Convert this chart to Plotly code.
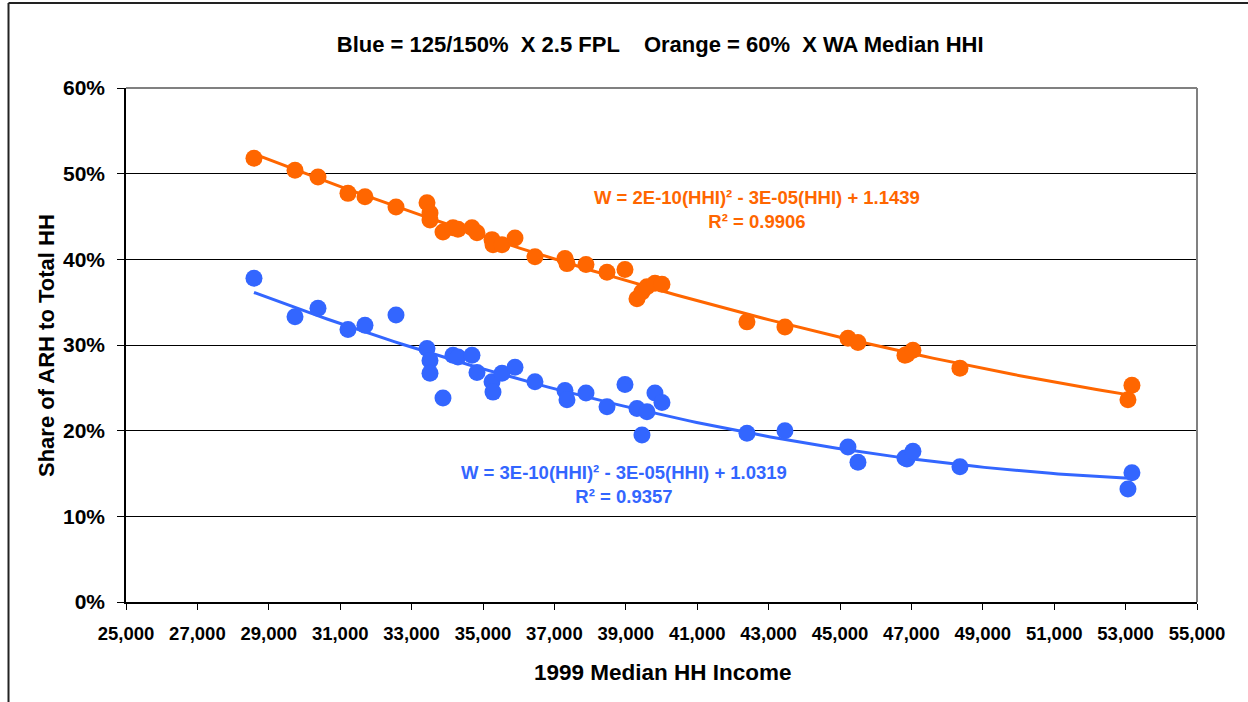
import numpy as np
import plotly.graph_objects as go

# 1999 median household income by county
income = [28585, 29734, 30378, 31218, 31694, 32563, 33431, 33515, 33515, 33879,
          34159, 34299, 34691, 34831, 35252, 35280, 35532, 35896, 36456, 37296,
          37352, 37885, 38473, 38977, 39313, 39453, 39593, 39817, 40013, 42394,
          43458, 45223, 45503, 46819, 46875, 47043, 48360, 53066, 53178]

# Orange series: 60% x WA median HHI
share_orange = [0.518, 0.504, 0.496, 0.477, 0.473, 0.461, 0.466, 0.454, 0.446, 0.432,
                0.437, 0.435, 0.437, 0.431, 0.423, 0.417, 0.417, 0.425, 0.403, 0.401,
                0.395, 0.394, 0.385, 0.388, 0.354, 0.362, 0.368, 0.372, 0.371, 0.327,
                0.321, 0.308, 0.303, 0.288, 0.289, 0.294, 0.273, 0.236, 0.253]

# Blue series: 125/150% x 2.5 FPL
share_blue = [0.378, 0.333, 0.343, 0.318, 0.323, 0.335, 0.296, 0.282, 0.267, 0.238,
              0.288, 0.286, 0.288, 0.268, 0.257, 0.245, 0.267, 0.274, 0.257, 0.247,
              0.236, 0.244, 0.228, 0.254, 0.226, 0.195, 0.222, 0.244, 0.233, 0.197,
              0.200, 0.181, 0.163, 0.168, 0.167, 0.176, 0.158, 0.132, 0.151]

x_ticks = list(range(25000, 55001, 2000))
y_ticks = [0, 0.1, 0.2, 0.3, 0.4, 0.5, 0.6]

ORANGE = "#FF6600"
BLUE = "#3366FF"
FONT = "Arial, Liberation Sans, sans-serif"

fig = go.Figure()


def add_series(y, color):
    x = np.array(income, dtype=float)
    coef = np.polyfit(x, np.array(y), 2)
    xs = np.linspace(x.min(), x.max(), 120)
    fig.add_trace(go.Scatter(x=xs, y=np.polyval(coef, xs), mode="lines",
                             line=dict(color=color, width=3), hoverinfo="skip"))
    fig.add_trace(go.Scatter(x=income, y=y, mode="markers",
                             marker=dict(color=color, size=17, line=dict(width=0))))


add_series(share_orange, ORANGE)
add_series(share_blue, BLUE)

fig.update_layout(
    width=1248, height=702,
    margin=dict(l=126, r=51, t=88, b=100),
    paper_bgcolor="white", plot_bgcolor="white",
    showlegend=False,
    font=dict(family=FONT, color="black"),
    title=dict(text="<b>Blue = 125/150%  X 2.5 FPL    Orange = 60%  X WA Median HHI</b>",
               xref="container", yref="container", x=0.529, y=1 - 44 / 702,
               xanchor="center", yanchor="middle", font=dict(size=22, family=FONT)),
)

fig.update_xaxes(range=[25000, 55000], tickvals=x_ticks,
                 ticktext=[f"<b>{v:,}</b>" for v in x_ticks],
                 tickfont=dict(size=18.5), ticks="outside", ticklen=6, tickcolor="black",
                 ticklabelstandoff=8,
                 showline=True, linecolor="black", linewidth=2, showgrid=False,
                 zeroline=False)
fig.update_yaxes(range=[0, 0.6], tickvals=y_ticks,
                 ticktext=[f"<b>{int(round(v * 100))}%</b>" for v in y_ticks],
                 tickfont=dict(size=21), ticks="outside", ticklen=7, tickcolor="black",
                 ticklabelstandoff=8,
                 showline=True, linecolor="black", linewidth=1.5,
                 showgrid=True, gridcolor="black", gridwidth=1, zeroline=False)

# gray plot-area frame on top and right
fig.add_shape(type="line", xref="paper", yref="paper", x0=0, x1=1, y0=1, y1=1,
              line=dict(color="#808080", width=2))
fig.add_shape(type="line", xref="paper", yref="paper", x0=1, x1=1, y0=0, y1=1,
              line=dict(color="#808080", width=2))

# outer chart frame
fig.add_shape(type="line", xref="paper", yref="paper", x0=-0.1097, x1=-0.1097,
              y0=1.1654, y1=-0.22, line=dict(color="#222222", width=2))
fig.add_shape(type="line", xref="paper", yref="paper", x0=-0.1097, x1=1.06,
              y0=1.1654, y1=1.1654, line=dict(color="#222222", width=2))

# axis titles
fig.add_annotation(text="<b>Share of ARH to Total HH</b>", xref="paper", yref="paper",
                   x=-0.0747, y=0.5, textangle=-90, showarrow=False,
                   font=dict(size=22), xanchor="center", yanchor="middle")
fig.add_annotation(text="<b>1999 Median HH Income</b>", xref="paper", yref="paper",
                   x=0.5014, y=-0.138, showarrow=False, font=dict(size=22.5),
                   xanchor="center", yanchor="middle")

# trendline equations
fig.add_annotation(text="<b>W = 2E-10(HHI)² - 3E-05(HHI) + 1.1439<br>R² = 0.9906</b>",
                   x=42674, y=0.4587, showarrow=False, align="center",
                   font=dict(size=18.5, color=ORANGE))
fig.add_annotation(text="<b>W = 3E-10(HHI)² - 3E-05(HHI) + 1.0319<br>R² = 0.9357</b>",
                   x=38949, y=0.1377, showarrow=False, align="center",
                   font=dict(size=18.5, color=BLUE))

fig.write_html("out.html")
